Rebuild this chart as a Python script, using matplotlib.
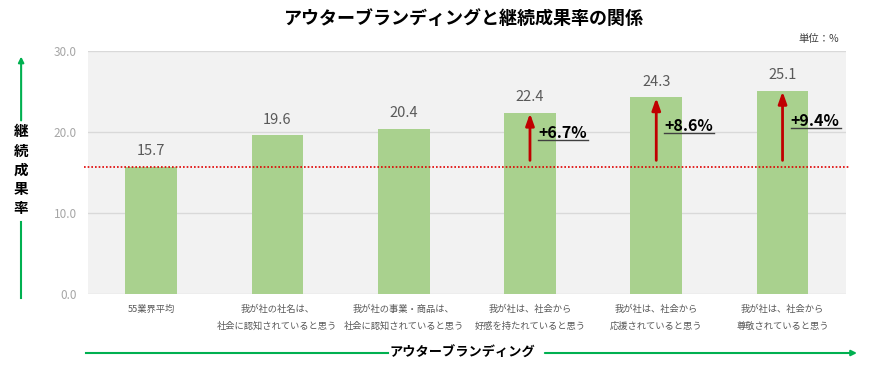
import matplotlib
matplotlib.use("Agg")
import matplotlib.pyplot as plt
import matplotlib.patches as mpatches
import numpy as np

plt.rcParams['font.family'] = ['Noto Sans CJK JP', 'DejaVu Sans']

# data
categories = ['55業界平均',
              '我が社の社名は、\n社会に認知されていると思う',
              '我が社の事業・商品は、\n社会に認知されていると思う',
              '我が社は、社会から\n好感を持たれていると思う',
              '我が社は、社会から\n応援されていると思う',
              '我が社は、社会から\n尊敬されていると思う']
values = [15.7, 19.6, 20.4, 22.4, 24.3, 25.1]
baseline = 15.7
diff_labels = ['+6.7%', '+8.6%', '+9.4%']
diff_index = [3, 4, 5]
yticks = [0, 10, 20, 30]

fig = plt.figure(figsize=(8.8, 3.71), dpi=100)
ax = fig.add_axes([0.1, 0.2075, 0.861, 0.655])
ax.set_facecolor('#f2f2f2')

x = np.arange(len(categories))
ax.bar(x, values, width=0.41, color='#a9d18e', zorder=2)
for xi, v in zip(x, values):
    ax.text(xi, v + 1.9, f'{v:.1f}', ha='center', va='center', fontsize=10.5, color='#595959')

ax.set_xlim(-0.5, len(categories) - 0.5)
ax.set_ylim(0, 30)
ax.set_yticks(yticks)
ax.set_yticklabels([f'{t:.1f}' for t in yticks], color='#a6a6a6', fontsize=8.5)
ax.set_xticks(x)
ax.set_xticklabels(categories, fontsize=6.7, color='#595959', linespacing=2.0)
ax.tick_params(length=0, pad=8)
ax.grid(axis='y', color='#d9d9d9', linewidth=1, zorder=1)
for s in ax.spines.values():
    s.set_visible(False)

# baseline dotted line
ax.plot([-0.53, 5.53], [baseline, baseline], color='#e00000', linestyle=(0, (1, 1.2)),
        linewidth=1.2, zorder=3, clip_on=False)

# red arrows with difference labels
label_y = [19.9, 20.75, 21.35]
for i, lab, ly in zip(diff_index, diff_labels, label_y):
    ax.annotate('', xy=(i, values[i] - 0.1), xytext=(i, 16.5),
                arrowprops=dict(arrowstyle='-|>,head_length=0.7,head_width=0.25',
                                color='#c00000', lw=2,
                                mutation_scale=10, shrinkA=0, shrinkB=0), zorder=4)
    ax.text(i + 0.065, ly, lab, ha='left', va='center', fontsize=11.5,
            fontweight='bold', color='black', zorder=5)
    ax.plot([i + 0.065, i + 0.46], [ly - 0.85, ly - 0.85], color='#404040', lw=1, zorder=5)

# title and unit
fig.text(0.527, 0.951, 'アウターブランディングと継続成果率の関係', ha='center', va='center',
         fontsize=13, fontweight='bold')
fig.text(0.93, 0.895, '単位：%', ha='center', va='center', fontsize=7.5, color='#404040')

# vertical axis label with green arrow
green = '#00b050'
fig.text(0.024, 0.542, '継\n続\n成\n果\n率', ha='center', va='center', fontsize=10.5,
         fontweight='bold', linespacing=1.25)
fig.add_artist(plt.Line2D([0.024, 0.024], [0.197, 0.402], color=green, lw=1.5,
                          transform=fig.transFigure))
fig.patches.append(mpatches.FancyArrowPatch(
    (0.024, 0.668), (0.024, 0.855), transform=fig.transFigure, arrowstyle='-|>',
    color=green, lw=1.5, mutation_scale=8))

# horizontal axis label with green arrow
fig.text(0.526, 0.0485, 'アウターブランディング', ha='center', va='center', fontsize=9.5,
         fontweight='bold')
fig.add_artist(plt.Line2D([0.098, 0.441], [0.0485, 0.0485], color=green, lw=1.5,
                          transform=fig.transFigure))
fig.patches.append(mpatches.FancyArrowPatch(
    (0.616, 0.0485), (0.977, 0.0485), transform=fig.transFigure, arrowstyle='-|>',
    color=green, lw=1.5, mutation_scale=8))

fig.savefig('out.png', dpi=100)
